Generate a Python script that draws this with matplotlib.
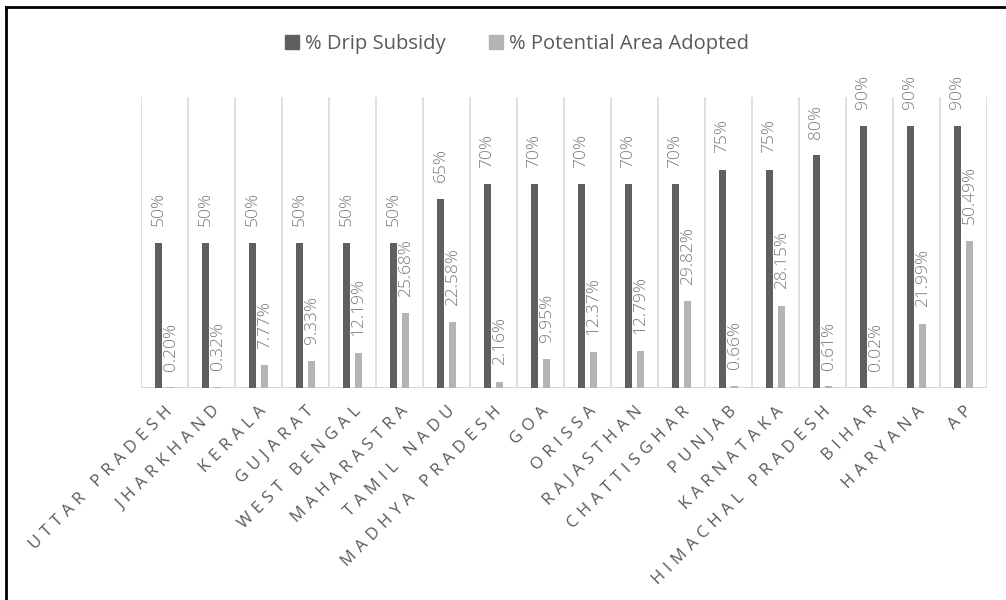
import numpy as np
import matplotlib.pyplot as plt
from matplotlib.lines import Line2D

states = ["UTTAR PRADESH", "JHARKHAND", "KERALA", "GUJARAT", "WEST BENGAL",
          "MAHARASTRA", "TAMIL NADU", "MADHYA PRADESH", "GOA", "ORISSA",
          "RAJASTHAN", "CHATTISGHAR", "PUNJAB", "KARNATAKA", "HIMACHAL PRADESH",
          "BIHAR", "HARYANA", "AP"]
drip_subsidy = [50, 50, 50, 50, 50, 50, 65, 70, 70, 70, 70, 70, 75, 75, 80, 90, 90, 90]
area_adopted = [0.20, 0.32, 7.77, 9.33, 12.19, 25.68, 22.58, 2.16, 9.95, 12.37,
                12.79, 29.82, 0.66, 28.15, 0.61, 0.02, 21.99, 50.49]

dark = "#5f5f5f"
light = "#b4b4b4"
txt = "#595959"
lbl = "#7a7a7a"
fam = ["Open Sans", "DejaVu Sans"]

fig = plt.figure(figsize=(10.06, 6), dpi=100)
ax = fig.add_axes([141/1006, (600-388)/600, 846/1006, 291/600])

x = np.arange(len(states))
w = 0.14
ax.bar(x - 0.13, drip_subsidy, w, color=dark, zorder=3)
ax.bar(x + 0.13, area_adopted, w, color=light, zorder=3)

for xi, v in zip(x, drip_subsidy):
    ax.annotate(f"{v}%", (xi - 0.13, v), xytext=(0, 12), textcoords="offset points",
                rotation=90, ha="center", va="bottom", color=lbl, fontsize=12.5,
                family=fam, fontweight="light")
for xi, v in zip(x, area_adopted):
    ax.annotate(f"{v:.2f}%", (xi + 0.13, v), xytext=(0, 12), textcoords="offset points",
                rotation=90, ha="center", va="bottom", color=lbl, fontsize=12.5,
                family=fam, fontweight="light")

ax.set_xlim(-0.5, len(states) - 0.5)
ax.set_ylim(0, 100)
for g in np.arange(-0.5, len(states), 1.0):
    ax.axvline(g, color="#d9d9d9", lw=1.2, zorder=1)
ax.axhline(0, color="#d9d9d9", lw=1.5, zorder=2)
for s in ax.spines.values():
    s.set_visible(False)
ax.set_yticks([])

# widen the letter spacing of the category names
spaced = ["\u2004".join(s) for s in states]
ax.set_xticks(x)
ax.set_xticklabels(spaced, rotation=45, ha="right", va="top", rotation_mode="anchor",
                   color=txt, fontsize=12, family=fam)
ax.tick_params(axis="x", length=0, pad=11)

handles = [Line2D([], [], marker="s", ls="", color=dark, markersize=10),
           Line2D([], [], marker="s", ls="", color=light, markersize=10)]
fig.legend(handles, ["% Drip Subsidy", "% Potential Area Adopted"], loc="center",
           bbox_to_anchor=(0.512, 0.926), ncol=2, frameon=False, handletextpad=0.15,
           columnspacing=2.0, handlelength=1.0,
           prop={"family": fam, "size": 14.5}, labelcolor=txt)

# outer frame on the left and top edges
fig.add_artist(Line2D([6/1006, 6/1006], [0, 1 - 7/600], color="black", lw=2))
fig.add_artist(Line2D([6/1006, 1], [1 - 7/600, 1 - 7/600], color="black", lw=2))

fig.savefig("out.png", dpi=100)
